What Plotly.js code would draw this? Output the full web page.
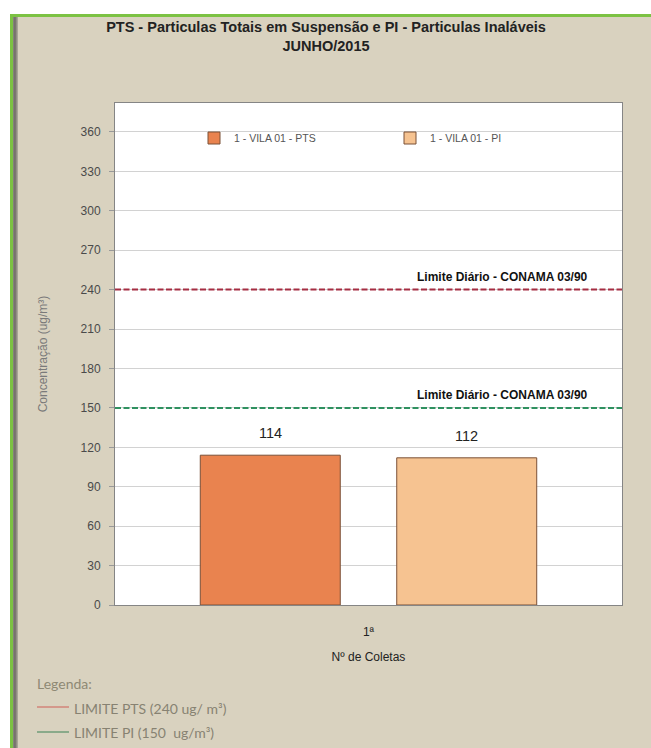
<!DOCTYPE html>
<html>
<head>
<meta charset="utf-8">
<script src="https://cdn.plot.ly/plotly-3.0.1.min.js"></script>
<style>
  html, body { margin:0; padding:0; background:#ffffff; width:651px; height:748px; overflow:hidden; }
  #frame { position:absolute; left:10px; top:14px; width:641px; height:734px;
           border-left:3px solid #7cc243; border-top:3px solid #7cc243; box-sizing:border-box;
           background:#d9d2bf; }
  #shadow { position:absolute; left:13px; top:17px; width:5px; height:731px;
            background:linear-gradient(to right,#8d8a82,#6f6c66 40%,#b5b0a2); }
  #chart { position:absolute; left:13px; top:17px; width:638px; height:731px; }
</style>
</head>
<body>
<div id="frame"></div>
<div id="chart"></div>
<div id="shadow"></div>
<script>
// ---- data ----
const categories = ["1ª"];
const seriesNames = ["1 - VILA 01 - PTS", "1 - VILA 01 - PI"];
const ptsValues = [114];
const piValues = [112];
const limitValues = [240, 150];
const limitLabels = ["Limite Diário - CONAMA 03/90", "Limite Diário - CONAMA 03/90"];
const legendNotes = ["LIMITE PTS (240 ug/ m³)", "LIMITE PI (150  ug/m³)"];
const yTicks = [0, 30, 60, 90, 120, 150, 180, 210, 240, 270, 300, 330, 360];

// figure geometry (px inside chart div)
const W = 638, H = 731, ML = 102, MR = 29, MT = 86, MB = 143;
const PW = W - ML - MR, PH = H - MT - MB;
const pxX = v => (v - ML) / PW;          // div px -> plot "paper" x
const pxY = v => (H - MB - v) / PH;      // div px (from top) -> plot "paper" y

const limitColors = ["#a52d42", "#2f9160"];
const noteColors = ["#d2857a", "#6f9d78"];
const FONT = "Liberation Sans, Arial";

const barColors = ["#e9834f", "#f6c391"];
const seriesValues = [ptsValues, piValues];
const traces = seriesValues.map((vals, i) => ({
  type:"bar", name:seriesNames[i], x:categories, y:vals,
  marker:{ color:barColors[i], line:{ color:"#7a5037", width:1 } },
  hoverinfo:"none"
}));

const shapes = limitValues.map((v, i) => ({
  type:"line", xref:"x domain", yref:"y", x0:0, x1:1, y0:v, y1:v,
  line:{ color:limitColors[i], width:2, dash:"6px,2.5px" }, layer:"above"
}));
legendNotes.forEach((t, i) => {
  const yy = pxY(690 + i * 25);
  shapes.push({ type:"line", xref:"paper", yref:"paper", x0:pxX(24), x1:pxX(56), y0:yy, y1:yy,
    line:{ color:noteColors[i], width:1.5 } });
});

const annotations = limitValues.map((v, i) => ({
  xref:"x domain", yref:"y", x:(577 - ML) / PW, y:v, yshift:13,
  xanchor:"right", yanchor:"middle", showarrow:false, text:"<b>" + limitLabels[i] + "</b>",
  font:{ family:FONT, size:12, color:"#111" }
}));
// value labels above the bars (grouped: slot width = (1-bargap)*PW/2)
const bargap = 0.225, bargroupgap = 0.2875;
const slot = (1 - bargap) * PW / seriesValues.length;
seriesValues.forEach((vals, i) => {
  vals.forEach((v, j) => {
    annotations.push({ xref:"x", yref:"y", x:categories[j], y:v, yshift:22,
      xshift:(i - (seriesValues.length - 1) / 2) * slot, showarrow:false, yanchor:"middle",
      text:String(v), font:{ family:FONT, size:14.5, color:"#222" } });
  });
});
annotations.push({ xref:"paper", yref:"paper", x:pxX(22), y:pxY(666), xanchor:"left", yanchor:"middle",
  showarrow:false, text:"Legenda:", font:{ family:"Lato, Open Sans", size:14, color:"#8e8974" } });
legendNotes.forEach((t, i) => {
  annotations.push({ xref:"paper", yref:"paper", x:pxX(59), y:pxY(691 + i * 24), xanchor:"left", yanchor:"middle",
    showarrow:false, text:t, font:{ family:"Lato, Open Sans", size:14, color:"#878272" } });
});

const layout = {
  width:W, height:H,
  paper_bgcolor:"#d9d2bf", plot_bgcolor:"#ffffff",
  margin:{ l:ML, r:MR, t:MT, b:MB },
  barmode:"group", bargap:bargap, bargroupgap:bargroupgap,
  title:{ text:"<b>PTS - Particulas Totais em Suspensão e PI - Particulas Inaláveis<br>JUNHO/2015</b>",
    x:313 / W, xanchor:"center", xref:"container", y:1 - 15 / H, yref:"container", yanchor:"middle",
    font:{ family:FONT, size:14.5, color:"#222" } },
  showlegend:true,
  legend:{ orientation:"h", x:pxX(181), y:pxY(121), xanchor:"left", yanchor:"middle",
    bgcolor:"rgba(255,255,255,0)", entrywidth:151, entrywidthmode:"pixels",
    font:{ family:FONT, size:10.5, color:"#555" }, traceorder:"normal" },
  xaxis:{ type:"category", showline:true, mirror:true, linecolor:"#858585", linewidth:1, automargin:false,
    ticks:"", tickfont:{ family:FONT, size:12, color:"#222" }, ticklabelstandoff:16,
    title:{ text:"Nº de Coletas", standoff:14, font:{ family:FONT, size:12, color:"#222" } },
    fixedrange:true },
  yaxis:{ range:[0, 382], tickvals:yTicks, ticktext:yTicks.map(String), showline:true, mirror:true,
    linecolor:"#858585", linewidth:1, ticks:"outside", ticklen:5, tickcolor:"#999", automargin:false,
    gridcolor:"#d2d2d2", gridwidth:1, zeroline:false, ticklabelstandoff:6,
    tickfont:{ family:FONT, size:12, color:"#4a4a4a" },
    title:{ text:"Concentração (ug/m³)", standoff:30, font:{ family:FONT, size:12, color:"#7a7a7a" } },
    fixedrange:true },
  shapes:shapes, annotations:annotations
};

Plotly.newPlot("chart", traces, layout, { displayModeBar:false, staticPlot:true });
</script>
</body>
</html>
